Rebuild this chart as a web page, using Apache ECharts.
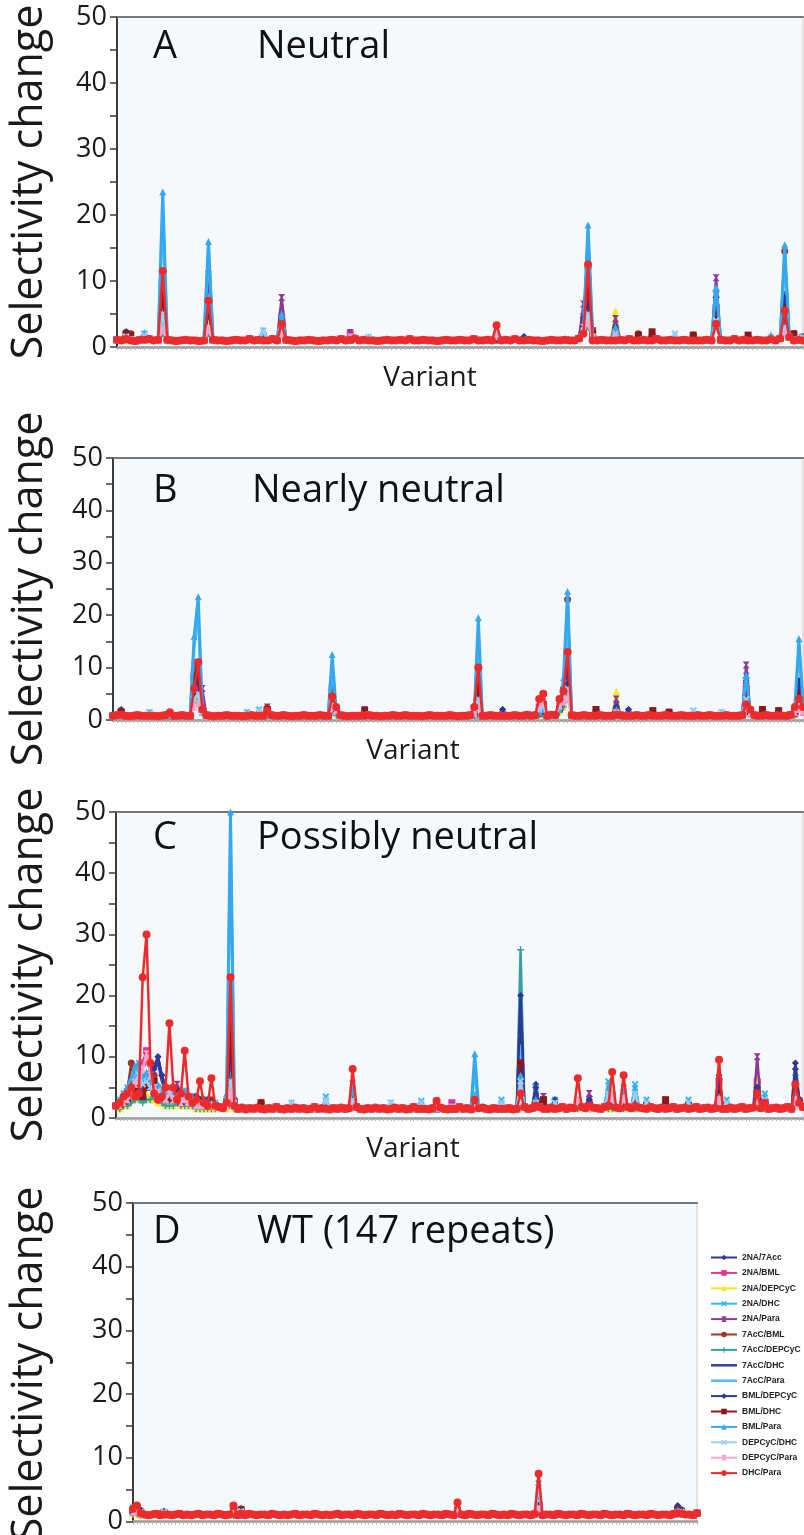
<!DOCTYPE html>
<html>
<head>
<meta charset="utf-8">
<script src="https://cdn.jsdelivr.net/npm/echarts@6.0.0/dist/echarts.min.js"></script>
<style>
html, body { margin: 0; padding: 0; background: #ffffff; }
#chart { width: 804px; height: 1535px; }
</style>
</head>
<body>
<div id="chart"></div>
<script>
// substrate pairs, same order in every panel
var ratioNames = ['2NA/7Acc', '2NA/BML', '2NA/DEPCyC', '2NA/DHC', '2NA/Para', '7AcC/BML', '7AcC/DEPCyC',
    '7AcC/DHC', '7AcC/Para', 'BML/DEPCyC', 'BML/DHC', 'BML/Para', 'DEPCyC/DHC', 'DEPCyC/Para', 'DHC/Para'];
var panelLetters = ['A', 'B', 'C', 'D'];
var panelTitles = ['Neutral', 'Nearly neutral', 'Possibly neutral', 'WT (147 repeats)'];
var yTicks = [0, 10, 20, 30, 40, 50];

// common level of all pairs at each variant
var baseA = [
    1.1,1.0,1.2,1.0,0.9,1.1,1.0,1.2,1.0,1.1,
    1.0,1.1,1.0,0.9,1.0,1.1,1.0,1.0,0.9,1.0,
    1.0,1.1,1.0,1.0,0.9,1.0,1.1,1.0,1.0,1.2,
    1.0,1.1,1.0,1.0,1.2,1.0,1.0,1.1,1.0,0.9,
    1.0,1.0,1.1,1.0,0.9,1.0,1.0,1.1,1.0,1.2,
    1.0,1.1,1.3,1.0,1.1,1.0,1.0,0.9,1.0,1.1,
    1.0,1.0,1.1,1.0,1.2,1.0,1.0,1.1,1.0,1.0,
    0.9,1.0,1.1,1.0,1.0,1.1,1.0,1.0,1.2,1.0,
    1.0,1.1,1.0,1.0,1.0,1.1,1.0,1.2,1.0,1.0,
    1.1,1.0,1.0,0.9,1.0,1.1,1.0,1.0,1.1,1.0,
    1.0,1.3,1.0,1.0,1.4,1.0,1.1,1.0,1.0,1.0,
    1.1,1.0,1.2,1.0,1.0,1.1,1.0,1.0,1.2,1.0,
    1.0,1.1,1.0,1.0,1.1,1.0,1.2,1.0,1.0,1.1,
    1.0,1.0,1.1,1.0,1.0,1.2,1.0,1.1,1.0,1.0,
    1.1,1.0,1.0,1.2,1.0,1.3,1.0,1.5,1.0,1.1,
    1.0
];
var baseB = [
    0.8,0.9,0.8,0.8,0.7,0.8,0.9,0.8,0.8,0.8,
    0.8,0.7,0.8,0.9,0.8,0.8,0.8,0.9,0.8,0.8,
    0.8,0.8,0.8,0.9,0.8,0.7,0.8,0.8,0.9,0.8,
    0.8,0.8,0.7,0.8,0.9,0.8,0.8,0.8,0.8,0.9,
    0.8,0.8,0.9,0.8,0.7,0.8,0.8,0.9,0.8,0.8,
    0.8,0.9,0.8,0.8,0.8,0.8,0.9,0.8,0.7,0.8,
    0.8,0.8,0.8,0.9,0.8,0.8,0.7,0.8,0.8,0.9,
    0.8,0.8,0.9,0.8,0.8,0.8,0.7,0.8,0.9,0.8,
    0.8,0.8,0.8,0.9,0.8,0.7,0.8,0.8,0.9,0.8,
    0.8,0.8,0.8,0.9,0.8,0.8,0.7,0.8,0.8,0.9,
    0.8,0.8,1.0,0.8,0.9,0.8,0.8,0.8,1.0,0.9,
    0.8,0.8,0.8,0.9,0.8,0.8,0.9,0.8,0.8,0.8,
    0.9,0.8,0.8,0.8,0.8,0.9,0.8,0.8,0.8,0.9,
    0.8,0.8,0.9,0.8,0.8,0.8,0.9,0.8,0.8,0.8,
    0.9,0.8,0.8,0.8,0.9,0.8,0.8,0.9,0.8,0.8,
    0.8,0.9,0.8,0.8,0.8,0.9,0.8,0.8,0.9,0.8,
    0.8,0.9,0.8,0.8,0.9,0.8,0.8,1.0,0.8,0.8,
    0.9
];
var baseC = [
    2.0,2.2,2.5,2.0,2.8,2.2,2.5,3.0,2.5,2.0,
    2.5,2.0,2.2,2.5,2.0,2.3,2.0,2.2,2.5,2.0,
    2.2,2.0,2.3,2.0,2.2,1.8,2.0,1.8,1.6,1.8,
    2.0,1.6,1.5,1.7,1.4,1.6,1.5,1.7,1.5,1.4,
    1.6,1.5,1.8,1.5,1.4,1.6,1.5,1.7,1.5,1.6,
    1.4,1.5,1.8,1.5,1.6,1.5,1.4,1.6,1.5,1.7,
    1.5,1.6,1.5,1.8,1.5,1.4,1.6,1.5,1.7,1.5,
    1.6,1.4,1.5,1.7,1.5,1.6,1.4,1.5,1.8,1.5,
    1.6,1.5,1.4,1.6,1.5,1.7,1.5,1.4,1.6,1.5,
    1.8,1.5,1.6,1.4,1.5,1.6,1.7,1.5,1.4,1.6,
    1.5,1.7,1.5,1.6,1.4,1.5,1.6,1.8,1.5,1.6,
    1.5,1.8,1.6,1.5,1.7,1.5,1.6,1.8,1.5,1.7,
    1.6,1.5,1.8,1.6,1.5,1.7,1.6,1.5,1.8,1.6,
    1.5,1.7,1.6,1.5,1.8,1.6,1.5,1.7,1.6,1.5,
    1.8,1.6,1.5,1.7,1.5,1.6,1.8,1.5,1.6,1.7,
    1.5,1.6,1.8,1.5,1.6,1.7,1.5,1.6,1.8,1.5,
    1.6,1.7,1.5,1.6,1.8,1.5,1.6,1.7,1.5,1.6,
    1.8,1.5,1.6,1.7,1.5,1.6,1.8,1.5,1.7,1.6,
    1.8
];
var baseD = [
    1.3,1.5,1.2,1.1,1.0,1.1,1.2,1.0,1.1,1.1,
    1.0,1.1,1.2,1.0,1.1,1.0,1.1,1.2,1.0,1.1,
    1.1,1.0,1.2,1.1,1.0,1.1,1.2,1.0,1.1,1.0,
    1.2,1.1,1.0,1.1,1.1,1.0,1.2,1.1,1.0,1.1,
    1.0,1.1,1.2,1.0,1.1,1.1,1.0,1.2,1.1,1.0,
    1.1,1.0,1.1,1.2,1.0,1.1,1.1,1.0,1.2,1.1,
    1.0,1.1,1.1,1.0,1.2,1.1,1.0,1.1,1.0,1.2,
    1.1,1.0,1.1,1.1,1.0,1.2,1.1,1.0,1.1,1.1,
    1.0,1.2,1.1,1.0,1.1,1.1,1.0,1.2,1.1,1.0,
    1.1,1.1,1.0,1.2,1.1,1.0,1.1,1.0,1.2,1.1,
    1.0,1.1,1.1,1.0,1.2,1.1,1.0,1.1,1.1,1.0,
    1.2,1.1,1.0,1.1,1.1,1.0,1.2,1.1,1.0,1.1,
    1.1,1.0,1.2,1.1,1.0,1.1,1.1,1.0,1.2,1.1,
    1.0,1.1,1.1,1.0,1.2,1.1,1.0,1.1,1.1,1.0,
    1.2,1.1,1.0,1.1,1.1,1.0,1.3
];

// variants where pairs leave the common level: [variant index, one value per pair in ratioNames order]
var peaksA = [
    [2,   2.3,1.5,1.0,1.8,1.4,2.2,1.0,1.3,1.5,2.3,2.0,1.5,1.6,1.3,1.2],
    [3,   1.5,1.2,1.0,1.3,1.1,2.0,1.0,1.1,1.2,1.6,1.8,1.2,1.2,1.1,1.0],
    [6,   1.2,1.0,1.0,2.0,1.0,1.0,1.0,1.0,2.0,1.2,1.0,2.2,1.8,1.0,1.1],
    [10,  9.0,10.0,3.0,4.5,8.0,8.5,2.0,9.0,20.0,9.0,8.0,23.5,5.0,2.5,11.5],
    [20,  6.0,5.0,4.0,3.0,11.0,7.0,2.0,6.0,15.0,5.5,7.0,16.0,3.0,2.5,7.0],
    [32,  1.2,1.0,1.0,2.5,1.0,1.0,1.0,1.0,2.2,1.2,1.0,2.5,2.5,1.0,1.0],
    [36,  4.0,4.5,6.0,5.0,7.5,3.5,2.0,4.0,4.5,4.0,3.5,5.0,3.0,2.0,3.5],
    [51,  1.2,2.0,1.0,1.3,2.2,1.0,1.0,1.0,1.0,1.2,1.0,1.0,1.2,1.5,1.1],
    [55,  1.0,1.0,1.0,1.5,1.0,1.0,1.0,1.0,1.3,1.0,1.0,1.5,1.5,1.0,1.0],
    [83,  1.5,1.5,1.0,2.0,1.3,1.2,1.0,1.2,1.8,1.5,1.2,2.0,2.2,1.5,3.3],
    [89,  1.5,1.0,1.0,1.2,1.0,1.0,1.0,1.3,1.0,1.6,1.0,1.0,1.0,1.0,1.0],
    [102, 5.0,4.0,3.5,3.0,6.5,3.0,2.5,3.0,3.5,4.5,2.5,3.0,2.5,3.0,2.0],
    [103, 7.0,9.0,4.0,6.0,10.5,12.0,3.0,7.0,16.0,6.5,10.0,18.5,5.0,3.5,12.5],
    [104, 2.0,2.5,1.5,2.0,2.0,2.5,1.5,2.0,2.0,2.0,2.0,2.0,1.5,1.5,1.0],
    [109, 3.0,2.0,5.5,3.0,4.3,2.0,1.5,3.0,2.5,3.0,2.0,3.0,2.0,1.5,1.0],
    [114, 1.2,1.0,1.0,1.0,1.0,2.0,1.0,1.0,1.0,1.2,1.8,1.0,1.0,1.0,1.0],
    [117, 1.2,1.0,1.0,1.0,1.0,1.8,1.0,1.0,1.0,1.2,2.3,1.0,1.0,1.0,1.0],
    [122, 1.2,1.0,1.0,2.0,1.0,1.0,1.0,1.0,1.5,1.2,1.0,1.8,2.0,1.0,1.0],
    [126, 1.0,1.0,1.0,1.0,1.0,1.8,1.0,1.0,1.0,1.0,1.8,1.0,1.0,1.0,1.0],
    [131, 7.5,6.0,5.0,8.0,10.5,5.0,8.5,7.0,9.0,7.5,5.0,9.0,4.0,3.0,3.5],
    [138, 1.0,1.0,1.0,1.0,1.0,1.5,1.0,1.0,1.0,1.0,1.8,1.0,1.0,1.0,1.0],
    [143, 1.2,1.0,1.0,1.5,1.0,1.0,1.0,1.0,1.5,1.2,1.0,1.8,1.5,1.0,1.2],
    [146, 8.0,6.5,3.0,5.0,4.0,14.5,3.0,8.0,13.0,7.5,6.0,15.5,3.0,2.0,5.5],
    [148, 1.5,1.2,1.0,1.2,1.0,2.0,1.0,1.2,1.2,1.5,2.0,1.2,1.2,1.0,1.0],
    [150, 1.2,1.0,1.0,1.5,1.0,1.5,1.0,1.0,1.2,1.2,1.5,1.5,1.5,1.0,1.0]
];
var peaksB = [
    [2,   2.0,0.8,0.8,1.0,0.8,1.8,0.8,1.0,0.8,1.8,1.5,0.8,1.0,0.8,1.0],
    [9,   0.8,0.8,0.8,1.5,0.8,0.8,0.8,0.8,1.2,0.8,0.8,1.5,1.3,0.8,0.8],
    [14,  0.8,0.8,0.8,0.8,0.8,1.0,0.8,0.8,0.8,0.8,1.0,0.8,0.8,1.0,1.5],
    [20,  5.0,9.0,3.0,6.0,10.5,8.0,4.0,9.0,14.0,5.5,8.0,16.0,4.0,2.5,6.0],
    [21,  8.5,10.0,4.0,6.0,8.0,10.0,3.0,9.0,20.0,7.0,11.0,23.5,5.0,3.0,11.0],
    [22,  3.0,2.0,1.5,1.5,6.0,2.0,1.5,2.0,1.5,2.5,2.0,1.5,1.5,2.0,2.0],
    [33,  0.8,0.8,0.8,1.5,0.8,0.8,0.8,0.8,1.2,0.8,0.8,1.5,1.3,0.8,0.8],
    [36,  1.0,0.8,0.8,2.0,1.0,0.8,0.8,0.8,1.5,1.0,0.8,1.8,1.8,0.8,0.8],
    [38,  1.2,1.5,0.8,1.2,2.5,2.3,0.8,1.0,1.0,1.2,2.0,1.0,1.0,1.5,1.8],
    [54,  4.0,6.0,5.0,4.0,7.5,5.0,3.0,4.0,10.0,3.5,4.0,12.5,3.0,2.5,4.5],
    [55,  1.5,1.5,1.2,1.5,1.5,1.5,1.0,1.2,1.5,1.5,1.5,1.5,1.5,2.0,2.5],
    [62,  1.0,0.8,0.8,1.0,2.0,1.2,0.8,1.0,0.8,1.0,1.8,0.8,1.0,0.8,0.8],
    [89,  1.2,1.0,0.8,1.0,1.0,1.0,0.8,1.0,1.0,1.2,1.0,1.0,1.0,1.5,2.5],
    [90,  7.5,6.0,3.0,4.0,6.0,8.0,3.0,7.0,16.0,7.5,8.0,19.5,4.0,2.5,10.0],
    [96,  2.0,0.8,0.8,1.0,1.0,0.8,0.8,1.2,0.8,2.0,0.8,0.8,1.0,0.8,0.8],
    [105, 1.5,2.5,1.0,1.5,1.2,1.5,1.0,1.2,1.5,1.5,1.5,1.5,2.0,3.0,4.0],
    [106, 2.0,2.0,1.0,3.0,1.5,2.0,1.0,1.5,2.0,2.0,3.0,2.0,2.5,3.5,5.0],
    [110, 3.0,2.5,1.5,2.5,2.0,2.0,1.5,2.0,2.0,3.0,2.0,2.0,2.5,3.0,4.0],
    [111, 6.0,5.0,2.5,5.5,4.0,6.0,2.5,5.0,7.0,6.0,5.0,8.0,4.0,3.5,5.5],
    [112, 6.5,12.5,4.0,14.0,8.0,23.0,5.0,10.0,19.0,7.0,13.0,24.5,6.0,4.0,13.0],
    [119, 1.0,0.8,0.8,0.8,0.8,1.8,0.8,0.8,0.8,1.0,2.0,0.8,0.8,0.8,0.8],
    [124, 2.5,1.5,5.5,3.0,4.0,1.5,1.2,2.0,2.0,2.5,1.5,2.0,1.5,1.2,1.0],
    [127, 2.0,0.8,0.8,1.0,1.0,0.8,0.8,1.2,0.8,2.0,0.8,0.8,1.0,0.8,0.8],
    [133, 1.0,0.8,0.8,0.8,0.8,1.5,0.8,0.8,0.8,1.0,1.8,0.8,0.8,0.8,0.8],
    [137, 1.0,0.8,0.8,0.8,0.8,1.5,0.8,0.8,0.8,1.0,1.5,0.8,0.8,0.8,0.8],
    [143, 1.0,0.8,0.8,1.8,0.8,0.8,0.8,0.8,1.2,1.0,0.8,1.5,1.8,0.8,0.8],
    [150, 1.0,0.8,0.8,1.5,0.8,0.8,0.8,0.8,1.2,1.0,0.8,1.5,1.5,0.8,0.8],
    [156, 7.5,6.0,4.0,8.5,10.5,4.0,8.0,7.0,8.0,7.0,4.5,8.5,4.0,2.5,3.0],
    [157, 1.5,1.2,1.0,1.5,1.5,2.0,1.2,1.5,1.2,1.5,1.5,1.2,1.2,1.0,2.0],
    [160, 1.0,0.8,0.8,0.8,0.8,1.5,0.8,0.8,0.8,1.0,2.0,0.8,0.8,0.8,0.8],
    [164, 1.8,0.8,0.8,1.0,0.8,1.2,0.8,1.0,0.8,1.5,1.8,0.8,1.0,0.8,0.8],
    [168, 1.5,1.5,1.0,2.5,1.2,1.5,1.0,1.5,2.0,1.5,1.5,2.5,2.0,1.5,2.5],
    [169, 7.5,5.0,3.0,5.0,4.0,5.0,3.0,7.0,13.0,7.5,5.0,15.5,3.0,2.0,4.0],
    [170, 3.0,2.0,1.5,2.5,1.5,3.0,1.5,2.5,3.0,3.0,2.5,3.0,2.0,1.5,2.5]
];
var peaksC = [
    [1,   2.5,2.0,1.5,3.0,2.0,2.5,1.5,2.0,2.5,2.5,2.0,3.0,2.5,2.0,2.5],
    [2,   3.5,3.0,2.0,4.0,2.5,3.0,2.0,3.0,3.5,3.0,2.5,4.0,3.0,2.5,3.5],
    [3,   4.0,2.5,2.0,5.0,3.0,4.5,2.0,3.5,4.0,3.5,3.0,5.0,3.5,3.0,4.0],
    [4,   6.0,4.0,3.0,6.5,4.0,9.0,2.5,5.0,6.0,5.0,5.5,6.5,5.0,4.0,5.0],
    [5,   5.0,6.0,3.0,8.0,5.0,6.0,3.0,4.0,7.0,4.5,5.0,8.5,6.0,5.5,3.5],
    [6,   4.0,7.0,4.0,9.0,6.0,4.0,3.0,5.0,8.0,4.0,4.0,9.0,7.0,6.0,4.0],
    [7,   3.0,9.0,5.0,6.0,5.0,3.5,2.5,4.0,6.0,3.5,3.5,6.5,5.5,8.0,23.0],
    [8,   5.0,11.0,4.0,7.0,6.5,5.0,3.0,6.0,7.0,5.0,5.0,7.5,6.0,10.5,30.0],
    [9,   6.0,7.0,3.0,5.5,8.0,6.0,3.0,7.0,6.0,6.0,5.5,6.0,5.0,7.0,9.0],
    [10,  8.0,5.0,3.0,4.5,6.0,7.0,3.5,8.0,5.0,8.5,6.0,5.0,4.0,5.0,4.0],
    [11,  10.0,4.0,2.5,5.0,4.5,5.0,3.0,9.0,5.5,10.0,4.5,5.5,4.5,4.0,3.0],
    [12,  7.0,3.5,2.5,4.0,4.0,4.0,2.5,6.0,4.5,7.0,3.5,4.5,3.5,3.5,3.5],
    [13,  5.0,3.0,2.0,3.5,3.5,3.5,2.0,4.5,4.0,5.0,3.0,4.0,3.0,3.0,5.0],
    [14,  4.0,4.5,2.5,5.0,3.0,4.0,2.0,4.0,5.0,4.0,3.5,5.0,4.0,4.0,15.5],
    [15,  3.5,3.0,2.0,4.0,4.0,3.5,2.0,3.0,4.0,3.5,3.0,4.5,3.5,3.0,5.0],
    [16,  4.5,3.5,2.5,3.0,5.5,4.5,2.5,4.0,3.5,4.5,4.0,3.5,3.0,3.5,3.0],
    [17,  3.0,2.5,2.0,3.5,3.0,3.0,2.0,3.0,3.0,3.0,2.5,3.5,3.0,2.5,4.0],
    [18,  4.0,3.0,2.0,4.5,3.5,4.0,2.0,3.5,4.0,3.5,3.0,4.5,3.5,3.0,11.0],
    [19,  3.0,2.5,2.0,3.0,2.5,3.5,2.0,2.5,3.0,3.0,3.0,3.0,2.5,2.5,3.5],
    [20,  3.5,3.0,2.0,3.5,3.0,3.0,2.0,3.0,3.5,3.5,2.5,3.5,3.0,2.5,2.5],
    [21,  2.5,2.5,1.5,3.0,2.5,3.5,1.5,2.5,3.0,2.5,3.0,3.0,2.5,2.0,3.0],
    [22,  3.0,2.0,1.5,2.5,3.0,2.5,1.5,2.5,2.5,3.0,2.5,2.5,2.5,2.0,6.0],
    [23,  2.5,2.5,1.5,3.0,2.0,3.0,1.5,2.0,3.0,2.5,2.5,3.0,2.5,2.0,2.5],
    [24,  3.0,2.0,1.5,2.5,2.5,2.5,1.5,2.5,2.5,3.0,2.0,2.5,2.0,2.0,2.0],
    [25,  2.5,2.0,1.5,2.5,2.0,3.0,1.5,2.0,2.5,2.5,2.5,2.5,2.0,2.0,6.5],
    [26,  2.0,2.0,1.5,2.5,2.0,2.0,1.5,2.0,2.5,2.0,2.0,2.5,2.0,1.8,2.0],
    [29,  2.5,2.0,1.5,3.0,2.5,3.0,2.0,3.0,4.0,2.5,2.5,4.0,2.5,2.0,2.5],
    [30,  10.0,6.0,4.0,9.0,10.0,20.5,7.0,17.0,45.0,12.0,15.0,50.0,6.0,4.0,23.0],
    [31,  2.5,2.0,1.5,2.5,2.0,3.0,1.5,2.5,3.0,2.5,2.5,3.0,2.5,2.0,2.0],
    [38,  2.0,1.5,1.5,2.0,1.5,2.5,1.5,1.5,1.5,2.0,2.5,1.5,1.5,1.5,1.5],
    [46,  1.5,1.5,1.5,2.5,1.5,1.5,1.5,1.5,2.0,1.5,1.5,2.5,2.5,1.5,1.5],
    [55,  1.8,1.5,1.5,3.5,1.5,1.5,1.5,1.5,2.5,1.8,1.5,3.0,3.0,1.5,1.5],
    [62,  4.0,3.0,3.0,4.0,5.5,3.0,2.0,4.0,5.0,3.5,3.0,5.0,3.0,2.0,8.0],
    [72,  1.5,1.5,1.5,2.5,1.5,1.5,1.5,1.5,2.0,1.5,1.5,2.5,2.5,1.5,1.5],
    [80,  1.5,1.5,1.5,2.8,1.5,1.5,1.5,1.5,2.0,1.5,1.5,2.5,2.5,1.5,1.5],
    [84,  1.5,2.0,1.5,1.5,1.5,1.5,1.5,1.5,1.5,1.5,1.5,1.5,1.5,2.0,2.8],
    [88,  1.5,2.5,1.5,1.5,2.0,1.5,1.5,1.5,1.5,1.5,1.5,1.5,1.5,1.8,1.5],
    [94,  2.5,2.0,2.0,4.0,2.5,2.5,2.0,2.5,8.0,2.5,2.0,10.5,3.0,2.0,3.0],
    [101, 1.5,1.5,1.5,3.0,1.5,1.5,1.5,1.5,2.0,1.5,1.5,2.5,2.5,1.5,1.5],
    [106, 14.0,8.0,5.0,9.0,6.0,10.0,27.5,20.0,12.0,20.0,9.0,7.0,6.0,4.0,4.0],
    [110, 5.5,2.5,2.0,5.0,3.5,2.5,2.0,3.0,3.0,5.0,2.5,3.0,2.5,2.0,2.0],
    [112, 2.0,1.5,1.5,2.0,3.5,2.5,1.5,1.5,1.5,2.0,3.0,1.5,1.5,1.5,1.5],
    [115, 3.0,1.5,1.5,3.0,2.0,1.5,1.5,2.0,2.5,3.0,1.5,2.5,2.5,1.5,1.5],
    [121, 2.0,2.0,1.5,2.0,2.0,2.0,1.5,2.0,2.0,2.0,2.0,2.0,2.0,3.0,6.5],
    [124, 3.5,2.0,3.5,2.5,4.0,2.0,1.5,2.5,2.0,3.0,2.0,2.0,2.0,1.5,2.0],
    [129, 2.5,2.0,1.5,6.0,2.0,2.0,1.5,2.0,5.0,2.5,2.0,5.0,4.0,2.0,2.0],
    [130, 2.5,3.0,1.5,3.0,2.5,4.0,1.5,2.5,3.0,2.5,3.0,3.0,3.0,4.0,7.5],
    [133, 2.5,2.5,1.5,5.0,2.0,2.5,1.5,2.0,4.0,2.5,2.5,4.0,3.5,3.0,7.0],
    [136, 2.5,2.0,1.5,5.5,2.0,2.0,1.5,2.0,4.5,2.5,2.0,5.0,4.0,2.0,2.0],
    [139, 2.0,1.5,1.5,3.0,1.5,2.0,1.5,1.5,2.5,2.0,2.0,2.5,2.5,1.5,1.5],
    [144, 2.5,1.5,1.5,2.0,1.5,2.5,1.5,2.0,1.5,2.5,3.0,1.5,1.5,1.5,1.5],
    [150, 2.0,1.5,1.5,3.0,1.5,2.0,1.5,1.5,2.5,2.0,2.0,2.5,2.5,1.5,1.5],
    [158, 7.0,6.0,3.5,4.0,5.0,4.0,3.0,4.0,3.5,6.5,4.0,3.5,3.0,3.0,9.5],
    [160, 2.0,1.5,1.5,3.0,1.5,1.5,1.5,1.5,2.5,2.0,1.5,2.5,2.5,1.5,1.5],
    [168, 6.0,6.0,7.0,3.0,10.0,5.0,2.5,3.5,3.0,5.0,4.0,3.0,2.5,3.0,4.0],
    [170, 3.0,2.0,2.0,4.0,2.5,3.0,2.0,2.5,3.5,3.0,2.5,3.5,3.0,2.0,2.5],
    [178, 9.0,5.0,3.0,4.0,4.0,4.5,7.0,5.0,4.0,8.0,4.0,4.0,3.0,3.0,5.5],
    [179, 3.0,2.5,2.0,2.5,2.5,3.0,2.5,2.5,2.5,3.0,2.5,2.5,2.0,2.0,2.5]
];
var peaksD = [
    [0,   1.8,1.5,1.2,2.2,1.5,2.0,1.2,1.5,2.0,1.8,1.8,2.2,2.0,1.5,2.0],
    [1,   2.0,1.8,1.2,2.0,1.5,2.5,1.2,1.8,2.0,2.0,2.2,2.0,1.8,1.5,2.5],
    [2,   1.8,1.2,1.0,1.5,1.2,1.5,1.0,1.5,1.5,1.8,1.5,1.5,1.5,1.2,1.3],
    [8,   1.6,1.2,1.0,1.5,1.2,1.4,1.0,1.4,1.4,1.6,1.4,1.5,1.5,1.2,1.1],
    [26,  1.6,1.4,1.0,1.5,2.0,1.8,1.0,1.5,1.5,1.6,1.8,1.5,1.5,1.4,2.5],
    [28,  1.5,1.2,1.0,1.6,1.3,2.0,1.0,1.3,1.5,1.5,1.8,1.6,1.6,1.2,1.2],
    [84,  2.0,1.5,1.2,2.0,1.5,1.8,1.2,1.8,1.8,2.0,1.8,2.0,2.0,1.5,3.0],
    [105, 2.5,2.0,1.5,6.0,2.0,2.5,1.5,2.5,6.0,2.5,2.5,5.0,5.5,2.0,7.5],
    [141, 2.5,1.5,1.2,1.8,1.5,2.0,1.2,1.8,1.5,2.3,1.8,1.8,1.5,1.2,1.3],
    [142, 1.8,1.5,1.2,1.6,1.3,1.8,1.2,1.5,1.5,1.8,1.6,1.6,1.5,1.2,1.2]
];

var ratioColors = ['#2f3896', '#ea2f8e', '#f6e81c', '#36b8ef', '#8d389d', '#a3342a', '#37a0a6',
    '#3a3ea6', '#55bcef', '#2b3b99', '#8a1a1a', '#35a9ef', '#9ccff4', '#f4a5ce', '#ee2b2b'];
var X_PATH = 'path://M0,2L2,0L5,3L8,0L10,2L7,5L10,8L8,10L5,7L2,10L0,8L3,5Z';
var STAR_PATH = 'path://M0,0L10,0L6,5L10,10L0,10L4,5Z';
var PLUS_PATH = 'path://M4,0H6V4H10V6H6V10H4V6H0V4H4Z';
var LINE_ICON = 'path://M0,4H26V6.5H0Z';
var ratioSymbols = ['diamond', 'rect', 'triangle', X_PATH, STAR_PATH, 'circle', PLUS_PATH,
    'none', 'none', 'diamond', 'rect', 'triangle', X_PATH, STAR_PATH, 'circle'];

var panels = [
    {base: baseA, peaks: peaksA, left: 117, top: 17, width: 686, height: 330, letterY: 47, titleX: 257, variantX: 430},
    {base: baseB, peaks: peaksB, left: 113, top: 458, width: 690, height: 262, letterY: 491, titleX: 252, variantX: 413},
    {base: baseC, peaks: peaksC, left: 116, top: 812, width: 687, height: 306, letterY: 838, titleX: 257, variantX: 413},
    {base: baseD, peaks: peaksD, left: 133, top: 1203, width: 564, height: 322, letterY: 1232, titleX: 257, variantX: null}
];

function pairData(base, peaks, k) {
    var d = base.slice();
    peaks.forEach(function (p) {
        d[p[0]] = p[k + 1];
    });
    return d;
}

function variantLabels(n) {
    var out = [];
    for (var i = 1; i <= n; i++) out.push(String(i));
    return out;
}

function buildChart() {
    var myChart = echarts.init(document.getElementById('chart'));
    var FONT = '"Open Sans", "Noto Sans", sans-serif';
    var grids = [], xAxes = [], yAxes = [], series = [], texts = [];

    panels.forEach(function (p, i) {
        var cats = variantLabels(p.base.length);
        grids.push({
            left: p.left, top: p.top, width: p.width, height: p.height,
            show: true, backgroundColor: '#f6f9fc', borderColor: '#c8c8c8', borderWidth: 1,
            containLabel: false
        });
        xAxes[i] = {
            type: 'category', gridIndex: i, data: cats, boundaryGap: false,
            axisLine: {lineStyle: {color: '#9a9a9a', width: 2.5}},
            axisTick: {show: true, interval: 0, length: 3, lineStyle: {color: '#b4b4b4'}},
            axisLabel: {show: false},
            splitLine: {show: false}
        };
        // dark frame line on top of each panel
        xAxes[i + 4] = {
            type: 'category', gridIndex: i, data: cats, boundaryGap: false, position: 'top',
            axisLine: {lineStyle: {color: '#777777', width: 2}},
            axisTick: {show: false},
            axisLabel: {show: false}
        };
        yAxes.push({
            type: 'value', gridIndex: i, min: yTicks[0], max: yTicks[yTicks.length - 1], interval: 10,
            axisLine: {show: true, lineStyle: {color: '#3a3a3a', width: 2}},
            axisTick: {show: true, length: 7, lineStyle: {color: '#3a3a3a', width: 1.5}},
            minorTick: {show: true, splitNumber: 2, length: 7, lineStyle: {color: '#3a3a3a', width: 1.5}},
            splitLine: {show: false},
            axisLabel: {fontSize: 27, fontFamily: FONT, color: '#1a1a1a', margin: 10}
        });

        ratioNames.forEach(function (name, k) {
            var isRed = k === ratioNames.length - 1;
            var wide = k === 8 || k === 11;
            series.push({
                type: 'line', name: name, xAxisIndex: i, yAxisIndex: i,
                data: pairData(p.base, p.peaks, k),
                symbol: ratioSymbols[k],
                symbolSize: isRed ? 8 : 7,
                showAllSymbol: true,
                lineStyle: {color: ratioColors[k], width: wide ? 3 : 2.5},
                itemStyle: {color: ratioColors[k]},
                emphasis: {disabled: true},
                z: 2 + k / 100
            });
        });

        // y-axis title, panel letter, panel title, x-axis title
        texts.push({
            type: 'text', x: 30, y: p.top + p.height / 2, rotation: Math.PI / 2,
            style: {text: 'Selectivity change', font: '43px ' + FONT, fill: '#1a1a1a',
                textAlign: 'center', textVerticalAlign: 'middle'}
        });
        texts.push({
            type: 'text', x: 153, y: p.letterY,
            style: {text: panelLetters[i], font: '38px ' + FONT, fill: '#111',
                textAlign: 'left', textVerticalAlign: 'middle'}
        });
        texts.push({
            type: 'text', x: p.titleX, y: p.letterY,
            style: {text: panelTitles[i], font: '38px ' + FONT, fill: '#111',
                textAlign: 'left', textVerticalAlign: 'middle'}
        });
        if (p.variantX !== null) {
            texts.push({
                type: 'text', x: p.variantX, y: p.top + p.height + 31,
                style: {text: 'Variant', font: '28px ' + FONT, fill: '#1a1a1a',
                    textAlign: 'center', textVerticalAlign: 'middle'}
            });
        }
    });

    var legendData = ratioNames.map(function (name, k) {
        return ratioSymbols[k] === 'none' ? {name: name, icon: LINE_ICON} : {name: name};
    });

    var option = {
        animation: false,
        backgroundColor: '#ffffff',
        grid: grids,
        xAxis: xAxes,
        yAxis: yAxes,
        legend: {
            orient: 'vertical', left: 705, top: 1248,
            itemWidth: 26, itemHeight: 7, itemGap: 6.4,
            selectedMode: false,
            textStyle: {fontSize: 8.5, fontWeight: 'bold', fontFamily: '"Liberation Sans", Arial, sans-serif',
                color: '#222', lineHeight: 9},
            data: legendData
        },
        graphic: texts,
        series: series
    };
    myChart.setOption(option);
}

buildChart();
</script>
</body>
</html>
